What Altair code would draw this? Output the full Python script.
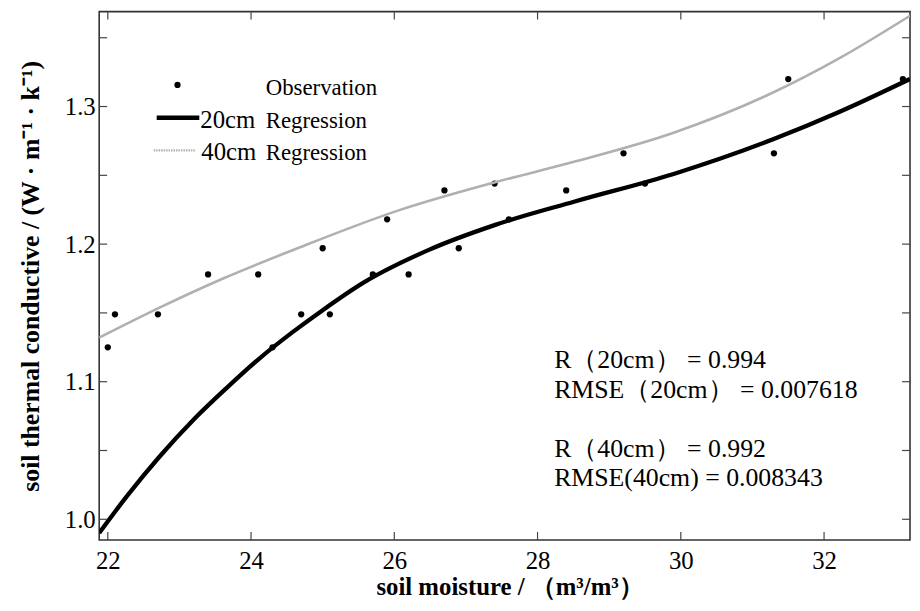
import altair as alt
import pandas as pd

# ---- data ----
obs_x = [22.0, 22.1, 22.7, 23.4, 24.1, 24.3, 24.7, 25.0, 25.1, 25.7, 25.9, 26.2,
         26.7, 26.9, 27.4, 27.6, 28.4, 29.2, 29.5, 31.3, 31.5, 33.1]
obs_y = [1.125, 1.149, 1.149, 1.178, 1.178, 1.125, 1.149, 1.197, 1.149, 1.178, 1.218, 1.178,
         1.239, 1.197, 1.244, 1.218, 1.239, 1.266, 1.244, 1.266, 1.320, 1.320]

reg20_x = [21.88, 22.27, 22.73, 23.19, 23.65, 24.12, 24.58, 25.0, 25.57, 26.49,
           27.41, 28.52, 29.90, 31.28, 32.21, 33.2]
reg20_y = [0.990, 1.017, 1.046, 1.072, 1.095, 1.117, 1.136, 1.152, 1.172, 1.196,
           1.214, 1.231, 1.251, 1.276, 1.296, 1.320]

reg40_x = [21.88, 22.73, 23.61, 24.65, 26.03, 27.41, 28.52, 29.90, 31.28, 32.21, 33.2]
reg40_y = [1.132, 1.154, 1.175, 1.197, 1.224, 1.245, 1.260, 1.281, 1.310, 1.335, 1.366]

x_tick_vals = [22, 24, 26, 28, 30, 32]
y_label_vals = [1.0, 1.1, 1.2, 1.3]
y_tick_vals = [1.0, 1.05, 1.1, 1.15, 1.2, 1.25, 1.3, 1.35]

legend_labels = ["Observation", "20cm", "Regression", "40cm", "Regression"]
stats_20 = ["R（20cm） = 0.994", "RMSE（20cm） = 0.007618"]
stats_40 = ["R（40cm） = 0.992", "RMSE(40cm) = 0.008343"]

x_title = "soil moisture / （m³/m³）"
y_title = "soil thermal conductive / (W · m⁻¹ · k⁻¹)"

# ---- layout ----
W, H = 818, 533
FONT = "Liberation Serif"
xscale = alt.Scale(domain=[21.88, 33.2], nice=False, zero=False)
yscale = alt.Scale(domain=[0.985, 1.369], nice=False, zero=False)

obs = pd.DataFrame({"x": obs_x, "y": obs_y})
r20 = pd.DataFrame({"x": reg20_x, "y": reg20_y})
r40 = pd.DataFrame({"x": reg40_x, "y": reg40_y})
xt = pd.DataFrame({"x": x_tick_vals})
yt = pd.DataFrame({"y": y_tick_vals})
one = pd.DataFrame({"a": [0]})

x_axis = alt.Axis(values=x_tick_vals, format="d", ticks=False, domain=False,
                  grid=False, labelFontSize=25, labelPadding=9, labelColor="black",
                  labelFont=FONT, titleFont=FONT, titleFontSize=25,
                  titleFontWeight="bold", titleColor="black",
                  titleX=414, titleY=55, titleBaseline="alphabetic")
y_axis = alt.Axis(values=y_label_vals, format=".1f", ticks=False, domain=False,
                  grid=False, labelFontSize=25, labelPadding=4, labelColor="black",
                  labelFont=FONT, titleFont=FONT, titleFontSize=26,
                  titleFontWeight="bold", titleColor="black",
                  titleAngle=270, titleX=-61, titleY=H / 2,
                  titleBaseline="alphabetic", titleAlign="center")

X = alt.X("x:Q", scale=xscale, title=x_title, axis=x_axis)
Y = alt.Y("y:Q", scale=yscale, title=y_title, axis=y_axis)

points = alt.Chart(obs).mark_circle(size=40, color="black", opacity=1).encode(x=X, y=Y)
line40 = alt.Chart(r40).mark_line(color="#b0b0b0", strokeWidth=2.6, interpolate="monotone",
                                  clip=True).encode(x=X, y=Y)
line20 = alt.Chart(r20).mark_line(color="black", strokeWidth=4.3, interpolate="monotone",
                                  clip=True).encode(x=X, y=Y)

tick_style = dict(color="#444444", strokeWidth=1.2)
tk_bottom = alt.Chart(xt).mark_rule(**tick_style).encode(x=X, y=alt.value(H), y2=alt.value(H - 8))
tk_top = alt.Chart(xt).mark_rule(**tick_style).encode(x=X, y=alt.value(0), y2=alt.value(8))
tk_left = alt.Chart(yt).mark_rule(**tick_style).encode(y=Y, x=alt.value(0), x2=alt.value(8))
tk_right = alt.Chart(yt).mark_rule(**tick_style).encode(y=Y, x=alt.value(W), x2=alt.value(W - 8))

# ---- legend (drawn) ----
lg_dot = alt.Chart(one).mark_circle(size=40, color="black", opacity=1).encode(
    x=alt.value(79), y=alt.value(74))
lg_l20 = alt.Chart(one).mark_rule(color="black", strokeWidth=4.5).encode(
    x=alt.value(58), x2=alt.value(101), y=alt.value(107))
lg_l40 = alt.Chart(one).mark_rule(color="#b0b0b0", strokeWidth=2.2, strokeDash=[1.5, 1]).encode(
    x=alt.value(55), x2=alt.value(97), y=alt.value(140))
txt = dict(font=FONT, color="black", align="left", baseline="alphabetic")
lg_t1 = alt.Chart(one).mark_text(fontSize=23, **txt).encode(
    x=alt.value(168), y=alt.value(84), text=alt.value(legend_labels[0]))
lg_t2 = alt.Chart(one).mark_text(fontSize=25, **txt).encode(
    x=alt.value(102), y=alt.value(117), text=alt.value(legend_labels[1]))
lg_t3 = alt.Chart(one).mark_text(fontSize=23, **txt).encode(
    x=alt.value(168), y=alt.value(117), text=alt.value(legend_labels[2]))
lg_t4 = alt.Chart(one).mark_text(fontSize=25, **txt).encode(
    x=alt.value(103), y=alt.value(150), text=alt.value(legend_labels[3]))
lg_t5 = alt.Chart(one).mark_text(fontSize=23, **txt).encode(
    x=alt.value(168), y=alt.value(150), text=alt.value(legend_labels[4]))

stats_a = alt.Chart(one).mark_text(fontSize=26, lineHeight=30, **txt).encode(
    x=alt.value(459), y=alt.value(360), text=alt.value(stats_20))
stats_b = alt.Chart(one).mark_text(fontSize=26, lineHeight=30, **txt).encode(
    x=alt.value(459), y=alt.value(449), text=alt.value(stats_40))

chart = alt.layer(
    points, line40, line20, tk_bottom, tk_top, tk_left, tk_right,
    lg_dot, lg_l20, lg_l40, lg_t1, lg_t2, lg_t3, lg_t4, lg_t5, stats_a, stats_b
).properties(
    width=W, height=H,
    padding={"left": 92, "top": 1, "right": 2, "bottom": 61},
    autosize=alt.AutoSizeParams(type="none"),
    background="white",
).configure(
    font=FONT
).configure_view(
    stroke="#333333", strokeWidth=1.6
)

chart.save("out.html", embed_options={"renderer": "svg", "actions": False})
